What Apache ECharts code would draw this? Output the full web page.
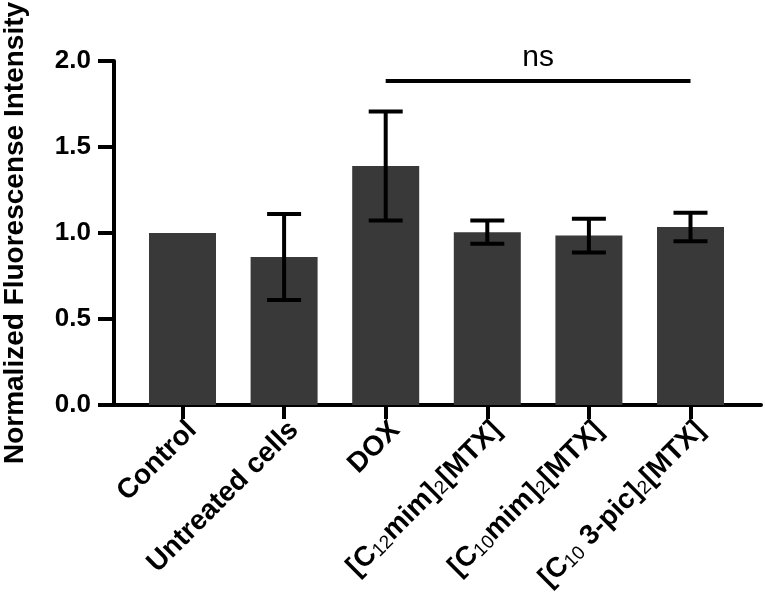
<!DOCTYPE html>
<html>
<head>
<meta charset="utf-8">
<script src="https://cdn.jsdelivr.net/npm/echarts@6/dist/echarts.min.js"></script>
<style>html,body{margin:0;padding:0;background:#fff}#c{width:765px;height:595px}</style>
</head>
<body>
<div id="c"></div>
<script>
const categories = ['Control', 'Untreated cells', 'DOX', '[C{s|12}mim]{s|2}[MTX]', '[C{s|10}mim]{s|2}[MTX]', '[C{s|10} 3-pic]{s|2}[MTX]'];
const means = [1.00, 0.86, 1.39, 1.005, 0.985, 1.035];
const errors = [0, 0.25, 0.317, 0.068, 0.098, 0.083];
const yTicks = [0, 0.5, 1.0, 1.5, 2.0];
const nsFrom = 2, nsTo = 5, nsLevel = 1.885, nsLabel = 'ns';

const FONT = 'Liberation Sans, Arial, sans-serif';
const chart = echarts.init(document.getElementById('c'), null, {renderer: 'canvas'});

const errData = means.map((m, i) => [i, m, errors[i]]);

chart.setOption({
  animation: false,
  grid: [
    {left: 131.7, right: 23.7, top: 61, bottom: 190, outerBoundsMode: 'none', containLabel: false},
    {left: 114, right: 4, top: 61, bottom: 190, outerBoundsMode: 'none', containLabel: false}
  ],
  xAxis: [
    {
      type: 'category', gridIndex: 0, data: categories,
      axisLine: {show: false},
      axisTick: {show: true, alignWithLabel: true, length: 14, lineStyle: {color: '#000', width: 4}},
      axisLabel: {
        rotate: 45, interval: 0, margin: 11, color: '#000', verticalAlign: 'top',
        fontFamily: FONT, fontWeight: 'bold', fontSize: 28,
        rich: {
          s: {fontSize: 19, fontWeight: 'normal', fontFamily: FONT, color: '#000', verticalAlign: 'bottom', lineHeight: 10}
        }
      }
    },
    {
      type: 'value', gridIndex: 1, min: 0, max: 1,
      axisLine: {show: true, lineStyle: {color: '#000', width: 4}},
      axisTick: {show: false}, axisLabel: {show: false}, splitLine: {show: false}
    }
  ],
  yAxis: [
    {type: 'value', gridIndex: 0, min: 0, max: 2, show: false},
    {
      type: 'value', gridIndex: 1, min: 0, max: 2, interval: 0.5,
      name: 'Normalized Fluorescense Intensity', nameLocation: 'middle', nameGap: 85,
      nameTextStyle: {fontFamily: FONT, fontWeight: 'bold', fontSize: 28, color: '#000'},
      axisLine: {show: true, lineStyle: {color: '#000', width: 4}},
      axisTick: {show: true, length: 16, lineStyle: {color: '#000', width: 4}},
      axisLabel: {
        color: '#000', fontFamily: FONT, fontWeight: 'bold', fontSize: 26, margin: 23,
        customValues: yTicks,
        formatter: v => v.toFixed(1)
      },
      splitLine: {show: false}
    }
  ],
  series: [
    {
      type: 'bar', xAxisIndex: 0, yAxisIndex: 0, data: means,
      barWidth: 67,
      itemStyle: {color: '#393939'},
      markLine: {
        silent: true, symbol: 'none',
        lineStyle: {color: '#000', width: 4, type: 'solid'},
        label: {show: true, position: 'middle', formatter: nsLabel, color: '#000', fontFamily: FONT, fontSize: 30, distance: 8},
        data: [[{coord: [nsFrom, nsLevel]}, {coord: [nsTo, nsLevel]}]]
      }
    },
    {
      type: 'custom', xAxisIndex: 0, yAxisIndex: 0, z: 5,
      data: errData,
      renderItem: function (params, api) {
        const x = api.value(0), m = api.value(1), e = api.value(2);
        if (!e) return null;
        const top = api.coord([x, m + e]);
        const bot = api.coord([x, m - e]);
        const hw = 17;
        const style = {stroke: '#000', lineWidth: 4, fill: null};
        return {
          type: 'group',
          children: [
            {type: 'line', shape: {x1: top[0], y1: top[1], x2: bot[0], y2: bot[1]}, style},
            {type: 'line', shape: {x1: top[0] - hw, y1: top[1], x2: top[0] + hw, y2: top[1]}, style},
            {type: 'line', shape: {x1: bot[0] - hw, y1: bot[1], x2: bot[0] + hw, y2: bot[1]}, style}
          ]
        };
      }
    }
  ]
});
</script>
</body>
</html>
